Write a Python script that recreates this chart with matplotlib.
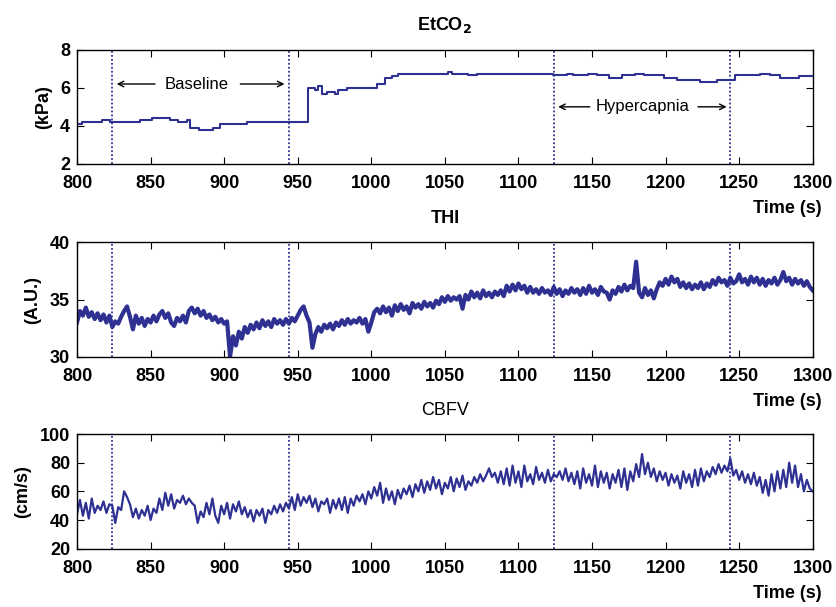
import numpy as np
import matplotlib
matplotlib.use('Agg')
import matplotlib.pyplot as plt

plt.rcParams['font.family'] = ['Liberation Sans', 'DejaVu Sans']

LINE = '#2E3192'

# EtCO2: stepwise signal (time of step, value after step)
etco2_t = [800, 803.2, 817, 822.5, 843, 851, 863, 868.8, 874.5, 876.8, 882.9, 892.6, 897.2,
           915.3, 957.2, 961.8, 964, 966.8, 969.6, 975.3, 977.6, 983.3, 1003.6, 1009.3,
           1013.9, 1018.4, 1052, 1055, 1066, 1071.5, 1123.6, 1132.9, 1137.4, 1147.6, 1153.3,
           1161.3, 1170.3, 1179.4, 1185, 1198.6, 1207.7, 1223.6, 1234.9, 1247.4, 1264.4,
           1271.2, 1278, 1290.5, 1300]
etco2_v = [4.1, 4.2, 4.3, 4.2, 4.3, 4.4, 4.3, 4.2, 4.3, 3.9, 3.8, 3.9, 4.1,
           4.2, 6.0, 5.9, 6.1, 5.7, 5.8, 5.7, 5.9, 6.0, 6.2, 6.5,
           6.6, 6.75, 6.82, 6.75, 6.65, 6.75, 6.65, 6.72, 6.65, 6.72, 6.65,
           6.5, 6.65, 6.72, 6.65, 6.5, 6.4, 6.3, 6.4, 6.65, 6.72,
           6.65, 6.5, 6.62, 6.62]

# THI and CBFV sampled every 2 s from 800 to 1300 s
t2 = np.arange(800, 1301, 2)

thi = [33.0, 34.0, 33.6, 34.3, 33.5, 33.9, 33.3, 33.8, 33.2, 33.7,
       33.0, 33.6, 32.6, 33.1, 32.9, 33.5, 34.0, 34.4, 33.5, 32.4,
       33.6, 32.9, 33.4, 32.7, 33.3, 33.0, 33.6, 33.1, 33.7, 34.0,
       33.4, 33.8, 33.0, 32.7, 33.4, 33.1, 33.6, 33.0, 34.0, 34.3,
       33.8, 34.2, 33.6, 34.0, 33.4, 33.7, 33.2, 33.5, 33.0, 33.3,
       32.9, 33.1, 30.0, 31.8, 31.0, 32.2, 31.6, 32.6, 32.1, 32.8,
       32.4, 33.0, 32.5, 33.2, 32.7, 33.1, 32.6, 33.3, 32.9, 33.2,
       32.8, 33.3, 32.9, 33.4, 33.1, 33.6, 34.1, 34.4, 33.6, 33.0,
       30.8, 32.0, 32.6, 32.2, 32.8, 32.5, 32.9, 32.4, 33.0, 32.7,
       33.2, 32.8, 33.3, 32.9, 33.2, 33.0, 33.4, 32.9, 33.3, 32.2,
       33.0, 33.9, 34.2, 33.8, 34.4, 33.9, 34.3, 33.6, 34.5, 34.0,
       34.6, 34.1, 34.4, 33.8, 34.7, 34.3, 34.6, 34.2, 34.8, 34.4,
       34.7, 34.3, 34.9, 34.6, 35.2, 34.8, 35.3, 34.9, 35.2, 35.0,
       35.3, 34.2, 35.4, 35.0, 35.7, 35.2, 35.6, 35.1, 35.8, 35.3,
       35.6, 35.2, 35.7, 35.4, 35.8, 35.3, 36.2, 35.7, 36.3, 35.8,
       36.4, 35.9, 36.2, 35.6, 36.1, 35.6, 35.9, 35.5, 36.0, 35.6,
       35.8, 35.4, 36.1, 35.5, 35.9, 35.3, 35.8, 35.5, 36.0, 35.6,
       35.9, 35.4, 36.0, 35.5, 36.2, 35.6, 35.9, 35.4, 36.1, 35.7,
       35.6, 35.0, 35.8, 35.5, 36.1, 35.7, 36.3, 35.8, 36.2, 36.0,
       38.3, 35.6, 35.2, 36.0, 35.4, 35.8, 35.1, 35.9, 36.5, 36.2,
       36.8, 36.3, 37.0, 36.5, 36.8, 36.1, 36.5, 36.0, 36.4, 35.9,
       36.3, 36.0, 36.5, 35.9, 36.4, 36.1, 36.7, 36.3, 36.9, 36.5,
       36.7, 36.2, 36.9, 36.4, 36.6, 37.2, 36.5, 36.8, 36.3, 37.0,
       36.5, 36.9, 36.3, 36.8, 36.2, 36.7, 36.4, 36.9, 36.3, 36.7,
       37.4, 36.6, 36.9, 36.3, 36.8, 36.4, 36.7, 36.2, 36.6, 36.1,
       35.8]

cbfv = [44, 54, 43, 52, 41, 55, 45, 50, 47, 53,
        45, 51, 50, 38, 49, 47, 60, 56, 51, 42,
        48, 41, 47, 43, 50, 40, 48, 45, 55, 47,
        59, 50, 58, 48, 54, 52, 57, 51, 55, 52,
        50, 38, 46, 42, 52, 44, 55, 43, 38, 50,
        44, 52, 41, 51, 46, 53, 44, 49, 42, 47,
        39, 47, 43, 48, 38, 47, 44, 50, 45, 51,
        46, 52, 48, 56, 47, 58, 50, 56, 52, 57,
        49, 55, 46, 53, 51, 55, 45, 54, 48, 55,
        47, 56, 45, 55, 50, 57, 53, 58, 51, 60,
        55, 63, 57, 66, 52, 62, 54, 60, 51, 61,
        55, 62, 58, 64, 56, 65, 60, 68, 59, 67,
        61, 70, 62, 68, 58, 66, 62, 70, 60, 69,
        63, 71, 61, 67, 64, 70, 66, 72, 67, 71,
        76, 70, 73, 66, 74, 65, 76, 64, 78, 66,
        74, 63, 78, 67, 72, 65, 77, 68, 73, 66,
        75, 67, 72, 70, 74, 68, 76, 67, 73, 65,
        74, 62, 76, 66, 72, 64, 78, 63, 74, 66,
        73, 62, 72, 66, 75, 63, 76, 61, 74, 67,
        79, 70, 86, 72, 80, 70, 76, 67, 74, 68,
        73, 64, 72, 66, 71, 62, 74, 66, 72, 63,
        75, 64, 76, 67, 74, 70, 77, 72, 79, 73,
        78, 74, 83, 71, 75, 68, 74, 66, 72, 65,
        73, 64, 70, 59, 68, 57, 72, 60, 74, 62,
        75, 63, 80, 66, 78, 63, 72, 60, 68, 62,
        60]

markers = [824, 944, 1124, 1244]
xticks = [800, 850, 900, 950, 1000, 1050, 1100, 1150, 1200, 1250, 1300]

fig = plt.figure(figsize=(8.37, 6.07), dpi=100)
ax1 = fig.add_axes([0.092, 0.730, 0.879, 0.188])
ax2 = fig.add_axes([0.092, 0.412, 0.879, 0.189])
ax3 = fig.add_axes([0.092, 0.096, 0.879, 0.189])

ax1.step(etco2_t, etco2_v, where='post', color=LINE, lw=1.5)
ax2.plot(t2, thi, color=LINE, lw=3.0)
ax3.plot(t2, cbfv, color=LINE, lw=1.6)

panels = [
    (ax1, (2, 8), [2, 4, 6, 8], '(kPa)', r'EtCO$_\mathbf{2}$', 'bold'),
    (ax2, (30, 40), [30, 35, 40], '(A.U.)', 'THI', 'bold'),
    (ax3, (20, 100), [20, 40, 60, 80, 100], '(cm/s)', 'CBFV', 'normal'),
]
for ax, ylim, yt, ylab, title, tw in panels:
    for m in markers:
        ax.axvline(m, color=LINE, ls=(0, (1, 1.2)), lw=1.3)
    ax.set_xlim(800, 1300)
    ax.set_ylim(*ylim)
    ax.set_xticks(xticks)
    ax.set_yticks(yt)
    ax.tick_params(direction='in', top=True, right=True, length=5, width=0.8,
                   labelsize=13)
    ax.tick_params(axis='x', pad=8)
    ax.tick_params(axis='y', pad=5)
    for lbl in ax.get_xticklabels() + ax.get_yticklabels():
        lbl.set_fontweight('bold')
    ax.set_ylabel(ylab, fontsize=13, fontweight='bold', labelpad=6)
    ax.set_title(title, fontsize=13, fontweight=tw, pad=14)
    ax.text(1.012, -0.39, 'Time (s)', transform=ax.transAxes, ha='right',
            va='center', fontsize=13, fontweight='bold')
    for s in ax.spines.values():
        s.set_linewidth(1.0)

# Period annotations
arrow = dict(arrowstyle='->', color='k', lw=1, shrinkA=0, shrinkB=0)
ax1.text(881.5, 6.2, 'Baseline', ha='center', va='center', fontsize=12)
ax1.annotate('', xy=(827, 6.2), xytext=(853, 6.2), arrowprops=arrow)
ax1.annotate('', xy=(941, 6.2), xytext=(911, 6.2), arrowprops=arrow)
ax1.text(1184.5, 5.0, 'Hypercapnia', ha='center', va='center', fontsize=12)
ax1.annotate('', xy=(1127, 5.0), xytext=(1148.5, 5.0), arrowprops=arrow)
ax1.annotate('', xy=(1241.5, 5.0), xytext=(1222, 5.0), arrowprops=arrow)

fig.savefig('out.png', dpi=100)
